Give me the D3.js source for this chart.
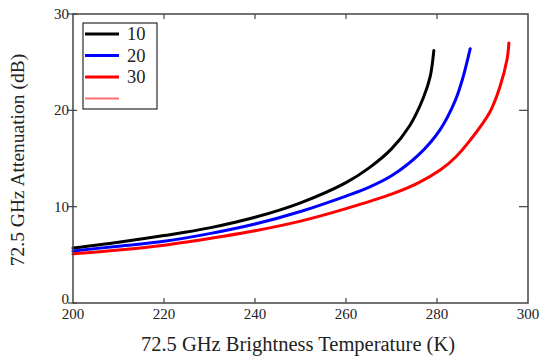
<!DOCTYPE html>
<html>
<head>
<meta charset="utf-8">
<script src="https://cdn.jsdelivr.net/npm/d3@7"></script>
<style>
  body { margin: 0; background: #fff; }
</style>
</head>
<body>
<div id="chart"></div>
<script>
// series data (brightness temperature K, attenuation dB)
var seriesNames = ["10", "20", "30"];
var seriesColors = ["#000000", "#0000ff", "#ff0000"];

var temp10 = [200, 210, 220, 230, 240, 250, 260, 265, 270, 274, 277, 278.5, 279.3];
var atten10 = [5.7, 6.3, 7.0, 7.8, 8.9, 10.4, 12.5, 14.0, 16.0, 18.4, 21.3, 23.5, 26.2];

var temp20 = [200, 210, 220, 230, 240, 250, 260, 265, 270, 276, 280.7, 284, 285.7, 287.3];
var atten20 = [5.4, 5.9, 6.4, 7.2, 8.2, 9.5, 11.1, 12.0, 13.2, 15.4, 18.0, 21.0, 23.4, 26.4];

var temp30 = [200, 210, 220, 230, 240, 250, 260, 270, 276, 280.7, 284, 287.3, 291.6, 293.8, 295.4, 295.8];
var atten30 = [5.1, 5.5, 6.0, 6.7, 7.5, 8.5, 9.8, 11.3, 12.5, 13.8, 15.1, 16.9, 19.8, 22.4, 25.3, 27.0];

var xTicks = [200, 220, 240, 260, 280, 300];
var yTicks = [0, 10, 20, 30];

var serif = "'Liberation Serif', 'DejaVu Serif', 'Times New Roman', serif";

var margin = {top: 14, left: 73, right: 16, bottom: 55},
    width = 544 - margin.left - margin.right,
    height = 358 - margin.top - margin.bottom;

var svg = d3.select("#chart").append("svg")
  .attr("width", 544).attr("height", 358)
  .attr("font-family", serif);

var g = svg.append("g").attr("transform", "translate(" + margin.left + "," + margin.top + ")");

var x = d3.scaleLinear().domain([200, 300]).range([0, width]);
var y = d3.scaleLinear().domain([0, 30]).range([height, 0]);

// curves
var line = d3.line()
  .x(function(d) { return x(d[0]); })
  .y(function(d) { return y(d[1]); })
  .curve(d3.curveCatmullRom.alpha(0.5));

var allSeries = [
  d3.zip(temp10, atten10),
  d3.zip(temp20, atten20),
  d3.zip(temp30, atten30)
];

g.selectAll("path.curve")
  .data(allSeries)
  .enter().append("path")
  .attr("class", "curve")
  .attr("d", line)
  .attr("fill", "none")
  .attr("stroke", function(d, i) { return seriesColors[i]; })
  .attr("stroke-width", 3)
  .attr("stroke-linecap", "round");

// frame
g.append("rect")
  .attr("width", width).attr("height", height)
  .attr("fill", "none").attr("stroke", "#444").attr("stroke-width", 1.5);

// bottom / top inward ticks + labels
var xInner = xTicks.filter(function(t) { return t > 200 && t < 300; });
g.selectAll("line.xb").data(xInner).enter().append("line")
  .attr("x1", x).attr("x2", x)
  .attr("y1", height).attr("y2", height - 5)
  .attr("stroke", "#444").attr("stroke-width", 1.2);
g.selectAll("line.xt").data(xInner).enter().append("line")
  .attr("x1", x).attr("x2", x)
  .attr("y1", 0).attr("y2", 5)
  .attr("stroke", "#444").attr("stroke-width", 1.2);
g.selectAll("text.xl").data(xTicks).enter().append("text")
  .attr("x", x).attr("y", height + 16)
  .attr("text-anchor", "middle")
  .attr("fill", "#222")
  .style("font-size", "15px")
  .text(function(d) { return d; });

// left axis ticks + labels, right axis inward ticks
g.selectAll("line.yl").data(yTicks).enter().append("line")
  .attr("x1", -5).attr("x2", 4)
  .attr("y1", y).attr("y2", y)
  .attr("stroke", "#444").attr("stroke-width", 1.2);
g.selectAll("line.yr").data(yTicks.filter(function(t) { return t > 0 && t < 30; })).enter().append("line")
  .attr("x1", width).attr("x2", width - 9)
  .attr("y1", y).attr("y2", y)
  .attr("stroke", "#444").attr("stroke-width", 1.2);
g.selectAll("text.yl").data(yTicks).enter().append("text")
  .attr("x", -4)
  .attr("y", function(d) { return d === 0 ? y(d) + 1 : y(d) + 5; })
  .attr("text-anchor", "end")
  .attr("fill", "#222")
  .style("font-size", "15px")
  .text(function(d) { return d; });

// axis titles
svg.append("text")
  .attr("x", 298).attr("y", 351)
  .attr("text-anchor", "middle")
  .attr("fill", "#222")
  .style("font-size", "20.5px")
  .text("72.5 GHz Brightness Temperature (K)");

svg.append("text")
  .attr("transform", "translate(24,160) rotate(-90)")
  .attr("text-anchor", "middle")
  .attr("fill", "#222")
  .style("font-size", "19.5px")
  .text("72.5 GHz Attenuation (dB)");

// legend
var legend = svg.append("g").attr("transform", "translate(83,23)");
legend.append("rect")
  .attr("width", 74).attr("height", 86)
  .attr("fill", "#fff").attr("stroke", "#000").attr("stroke-width", 1);

var legendItems = seriesNames.concat([""]);
var legendColors = seriesColors.concat(["#ff7070"]);
legendItems.forEach(function(name, i) {
  var ly = 11 + i * 21.5;
  legend.append("line")
    .attr("x1", 2).attr("x2", 36)
    .attr("y1", ly).attr("y2", ly)
    .attr("stroke", legendColors[i])
    .attr("stroke-width", i < 3 ? 3 : 2);
  if (name) {
    legend.append("text")
      .attr("x", 44).attr("y", ly + 6)
      .attr("fill", "#222")
      .style("font-size", "18.5px")
      .text(name);
  }
});
</script>
</body>
</html>
